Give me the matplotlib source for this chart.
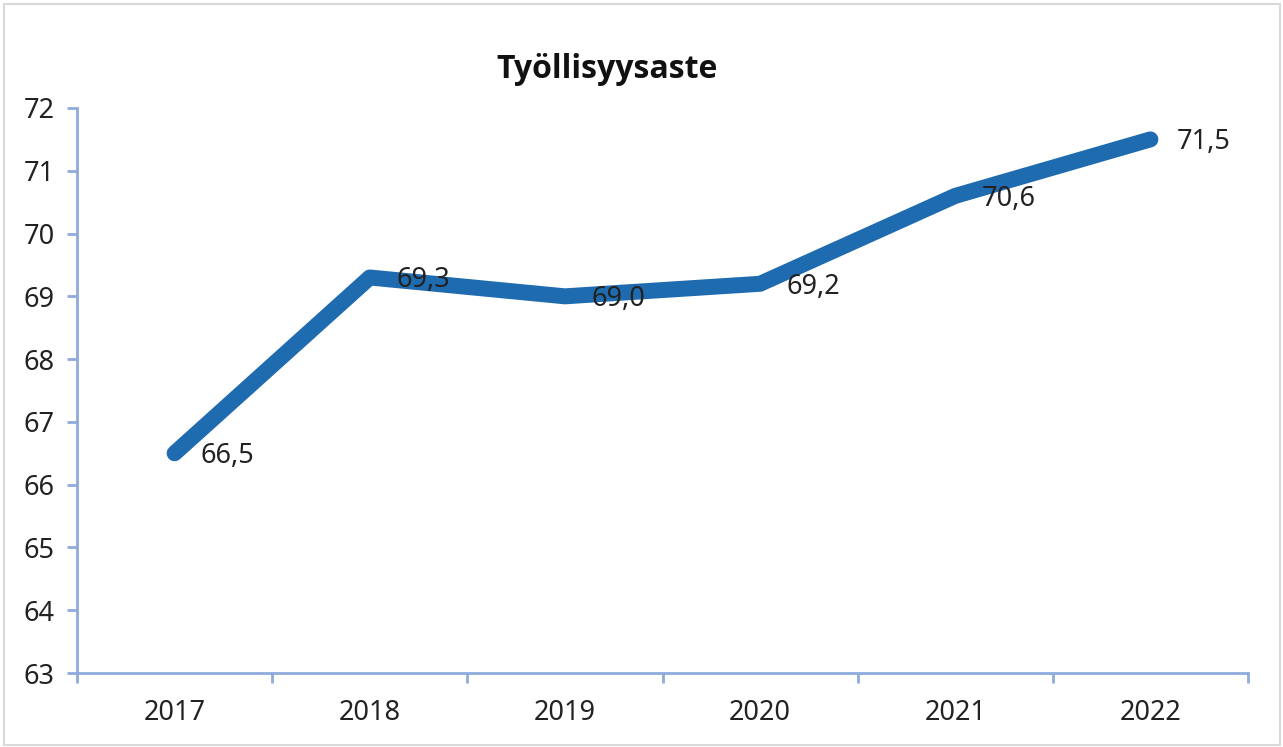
import matplotlib.pyplot as plt
from matplotlib.patches import Rectangle

years = ["2017", "2018", "2019", "2020", "2021", "2022"]
rate = [66.5, 69.3, 69.0, 69.2, 70.6, 71.5]
y_ticks = [63, 64, 65, 66, 67, 68, 69, 70, 71, 72]

line_color = "#1F6BB0"
axis_color = "#8FAADC"

plt.rcParams["font.family"] = ["Noto Sans", "DejaVu Sans"]

fig = plt.figure(figsize=(12.83, 7.47), dpi=100)
ax = fig.add_axes([77 / 1283, 1 - 673 / 747, (1248 - 77) / 1283, (673 - 108) / 747])

x = list(range(len(years)))
ax.plot(x, rate, color=line_color, lw=11.5, solid_capstyle="round",
        solid_joinstyle="round", zorder=3)

for xi, v in zip(x, rate):
    ax.annotate(f"{v:.1f}".replace(".", ","), (xi, v), xytext=(19, -2),
                textcoords="offset points", ha="left", va="center",
                fontsize=19.5, color="#222222", zorder=4)

ax.set_xlim(-0.5, len(years) - 0.5)
ax.set_ylim(63, 72)
ax.set_yticks(y_ticks)
ax.set_yticklabels([str(t) for t in y_ticks])
ax.set_xticks(x)
ax.set_xticklabels(years)
ax.set_xticks([i - 0.5 for i in range(len(years) + 1)], minor=True)
ax.tick_params(axis="x", which="major", length=0, pad=19, labelsize=19.5,
               labelcolor="#222222")
ax.tick_params(axis="x", which="minor", length=7, width=2, color=axis_color,
               direction="out")
ax.tick_params(axis="y", length=7, width=2, color=axis_color, pad=9,
               labelsize=19.5, labelcolor="#222222")

for side in ["top", "right"]:
    ax.spines[side].set_visible(False)
for side in ["left", "bottom"]:
    ax.spines[side].set_color(axis_color)
    ax.spines[side].set_linewidth(2)

fig.text(607 / 1283, 1 - 70 / 747, "Työllisyysaste", ha="center", va="center",
         fontsize=23, fontweight="bold", color="#111111",
         family=["Open Sans", "Roboto", "DejaVu Sans"])

fig.patches.append(Rectangle((4 / 1283, 2 / 747), 1276 / 1283, 741 / 747,
                             transform=fig.transFigure, fill=False,
                             edgecolor="#D9D9D9", lw=1.5))

fig.savefig("out.png", dpi=100, facecolor="white")
